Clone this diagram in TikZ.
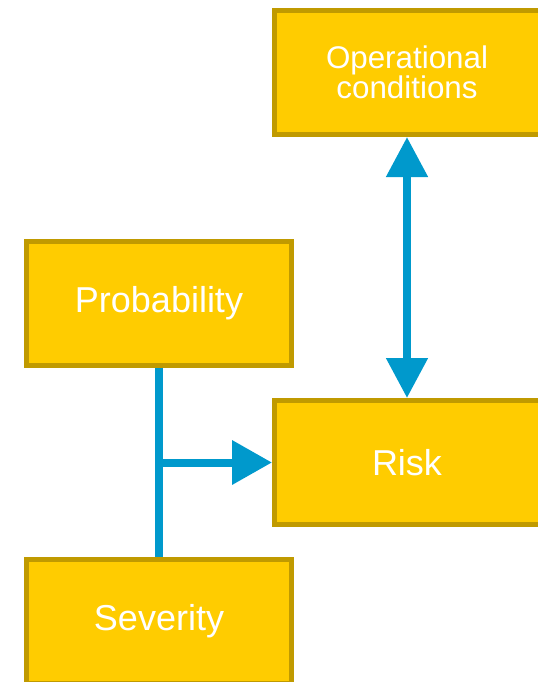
\documentclass[tikz,border=0pt]{standalone}
\usepackage{fontspec}
\setmainfont{Liberation Sans}
\usetikzlibrary{arrows.meta}
\definecolor{boxfill}{HTML}{FFCC00}
\definecolor{boxline}{HTML}{C09A00}
\definecolor{arrowblue}{HTML}{0099CC}
\tikzset{
  box/.style={draw=boxline, fill=boxfill, line width=3.75pt, minimum width=198.75pt, minimum height=93pt, text=white, align=center, inner sep=0pt, font=\fontsize{27}{30}\selectfont},
  widebox/.style={box, minimum width=207.75pt},
  conn/.style={draw=arrowblue, line width=6pt},
  tip/.style={-{Triangle[length=30pt,width=32pt]}},
}
\newcommand{\leftmovetext}[1]{\makebox[0pt]{#1}\kern9pt}
\begin{document}
\begin{tikzpicture}[x=0.75pt,y=-0.75pt]
\useasboundingbox (0,0) rectangle (537,682);
\node[widebox, font=\fontsize{23.5}{22.5}\selectfont] (op) at (413,72.5) {\leftmovetext{Operational}\\\leftmovetext{conditions}};
\node[box] (prob) at (159,303) {Probability};
\node[widebox] (risk) at (413,462.5) {\leftmovetext{Risk}};
\node[box] (sev) at (159,621.5) {Severity};
\coordinate (j) at (prob.south |- risk.west);
\coordinate (a) at ([xshift=-4.5pt]op.south);
\coordinate (b) at (a |- risk.north);
\draw[conn] (prob.south) -- (sev.north);
\draw[conn, tip] (j) -- (risk.west);
\draw[conn, {Triangle[length=30pt,width=30pt]}-{Triangle[length=30pt,width=30pt]}] (a) -- (b);
\end{tikzpicture}
\end{document}
